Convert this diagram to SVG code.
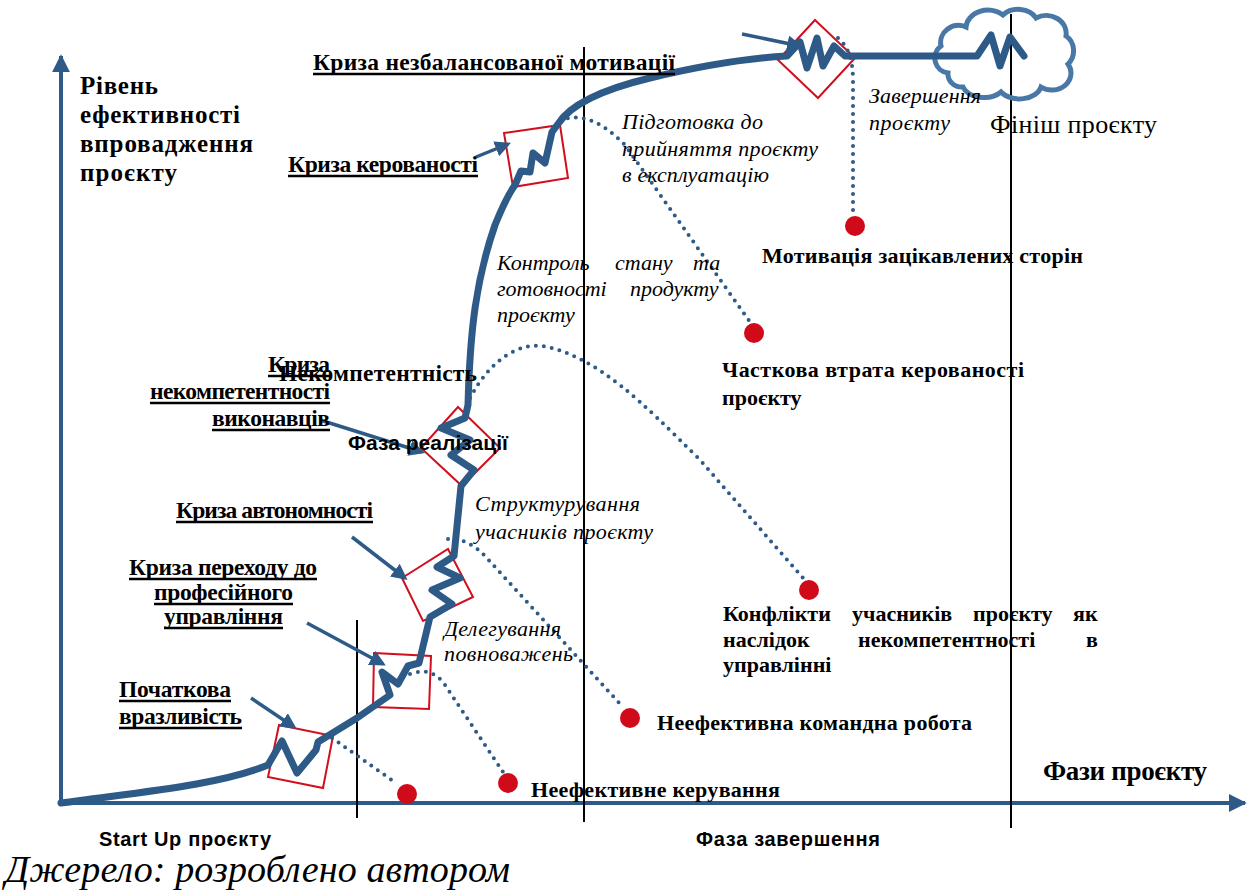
<svg xmlns="http://www.w3.org/2000/svg" width="1251" height="892" viewBox="0 0 1251 892">
<style>
.b{font-family:"Liberation Serif","Times New Roman",serif;font-weight:bold;font-size:23.5px;fill:#000}
.bs{font-family:"Liberation Serif","Times New Roman",serif;font-weight:bold;font-size:22px;fill:#000}
.i{font-family:"Liberation Serif","Times New Roman",serif;font-style:italic;font-size:22px;fill:#000}
.s{font-family:"Liberation Sans",Arial,sans-serif;font-weight:bold;font-size:20px;fill:#000}
.ul{stroke:#000;stroke-width:2.5}
.vl{stroke:#000;stroke-width:2;fill:none}
.box{fill:none;stroke:#D0101E;stroke-width:2}
.main{fill:none;stroke:#2E5A87;stroke-width:7;stroke-linejoin:round;stroke-linecap:round}
.arr{fill:none;stroke:#2E5A87;stroke-width:3.5}
.dot{fill:none;stroke:#2E5A87;stroke-width:4;stroke-dasharray:0 8;stroke-linecap:round}
.rd{fill:#D10A1A}
.ax{stroke:#2E5A87;stroke-width:4;fill:none}
</style>
<defs>
<marker id="ah" markerUnits="userSpaceOnUse" markerWidth="16" markerHeight="16" viewBox="0 0 10 10" refX="8" refY="5" orient="auto">
<path d="M0,0 L10,5 L0,10 z" fill="#2E5A87"/>
</marker>
<marker id="axh" markerUnits="userSpaceOnUse" markerWidth="18" markerHeight="18" viewBox="0 0 10 10" refX="9" refY="5" orient="auto">
<path d="M0,0 L10,5 L0,10 z" fill="#2E5A87"/>
</marker>
</defs>

<g id="axes">
<line class="ax" x1="61" y1="803" x2="61" y2="56" marker-end="url(#axh)"/>
<line class="ax" x1="59" y1="803" x2="1245" y2="803" marker-end="url(#axh)"/>
<line class="vl" x1="357" y1="620" x2="357" y2="818"/>
<line class="vl" x1="584" y1="47" x2="584" y2="822"/>
<line class="vl" x1="1011" y1="14" x2="1011" y2="828"/>
</g>

<g id="cloud">
<path d="M948,73 A15,15 0 0 1 941,46 A18,17 0 0 1 966,27 A22,18 0 0 1 1003,15 A20,16 0 0 1 1036,18 A20,18 0 0 1 1066,36 A15,17 0 0 1 1068,64 A19,17 0 0 1 1041,87 A22,15 0 0 1 1001,92 A22,15 0 0 1 963,87 A14,13 0 0 1 948,73 Z" fill="none" stroke="#4A78A6" stroke-width="5"/>
</g>

<g id="boxes">
<polygon class="box" points="279,725 333,736 323,788 268,777"/>
<polygon class="box" points="374,653 431,656 429,709 373,707"/>
<polygon class="box" points="402,578 448,549 473,597 423,621"/>
<polygon class="box" points="458,407 500,448 462,486 421,448"/>
<polygon class="box" points="504,133 560,125 568,178 513,187"/>
<polygon class="box" points="815,20 855,58 818,98 778,60"/>
</g>

<g id="connectors">
<path class="main" d="M61,803 C140,792 220,785 268,765 L282,741 L297,773 L316,750 L318,742 L357,718 L390,695 L382,672 L398,684 L408,666 L419,663 L430,617 L452,604 L432,590 L460,578 L437,567 L454,556 L461,486 L474,470 L451,455 L470,440 L441,428 L465,418 L468,405 C470,330 476,280 495,225 C505,200 510,192 515,185 L521,171 L530,172 L533,153 L545,163 L552,132 L558,124 C570,105 600,90 650,78 C700,66 750,58 787,56 L800,42 L807,68 L817,38 L823,66 L834,46 L845,56 L977,56 L991,35 L1000,66 L1010,37 L1024,56"/>
<path class="dot" d="M332,738 L396,783"/>
<path class="dot" d="M410,674 Q432,666 445,685 L503,772"/>
<path class="dot" d="M448,539 Q468,538 485,556 L622,706"/>
<path class="dot" d="M470,398 C490,360 520,340 548,347 C600,360 640,400 700,460 L803,578"/>
<path class="dot" d="M560,120 C585,112 605,125 625,145 L750,322"/>
<path class="dot" d="M838,38 Q853,50 853,80 L853,213"/>
<line class="arr" x1="742" y1="34" x2="800" y2="46" marker-end="url(#ah)"/>
<line class="arr" x1="476" y1="157" x2="508" y2="144" marker-end="url(#ah)"/>
<line class="arr" x1="320" y1="420" x2="422" y2="452" marker-end="url(#ah)"/>
<line class="arr" x1="352" y1="537" x2="405" y2="578" marker-end="url(#ah)"/>
<line class="arr" x1="307" y1="623" x2="383" y2="664" marker-end="url(#ah)"/>
<line class="arr" x1="251" y1="698" x2="294" y2="727" marker-end="url(#ah)"/>
</g>

<g id="points">
<circle class="rd" cx="407" cy="794" r="10"/>
<circle class="rd" cx="508" cy="783" r="10"/>
<circle class="rd" cx="630" cy="718" r="10"/>
<circle class="rd" cx="809" cy="590" r="10"/>
<circle class="rd" cx="754" cy="333" r="10"/>
<circle class="rd" cx="855" cy="226" r="10"/>
</g>

<g id="y-label">
<text class="b" style="font-size:25px" x="80" y="94" textLength="78">Рівень</text>
<text class="b" style="font-size:25px" x="80" y="123" textLength="160">ефективності</text>
<text class="b" style="font-size:25px" x="80" y="152" textLength="173">впровадження</text>
<text class="b" style="font-size:25px" x="80" y="181" textLength="97">проєкту</text>
</g>

<g id="crisis-motivation">
<text class="b" x="313" y="70" textLength="362">Криза незбалансованої мотивації</text>
<line class="ul" x1="313" y1="74" x2="675" y2="74"/>
</g>
<g id="crisis-control">
<text class="b" x="288" y="172" textLength="190">Криза керованості</text>
<line class="ul" x1="288" y1="176" x2="478" y2="176"/>
</g>
<g id="crisis-incompetence">
<text class="b" x="268" y="372" textLength="62">Криза</text>
<line class="ul" x1="268" y1="376" x2="330" y2="376"/>
<text class="b" x="150" y="399" textLength="180">некомпетентності</text>
<line class="ul" x1="150" y1="403" x2="330" y2="403"/>
<text class="b" x="212" y="426" textLength="118">виконавців</text>
<line class="ul" x1="212" y1="430" x2="330" y2="430"/>
</g>
<g id="incompetence">
<text class="b" x="279" y="381" textLength="198">Некомпетентність</text>
</g>
<g id="phase-realization">
<text class="s" style="font-size:21px" x="348" y="450" textLength="160">Фаза реалізації</text>
</g>
<g id="crisis-autonomy">
<text class="b" x="176" y="518" textLength="197">Криза автономності</text>
<line class="ul" x1="176" y1="522" x2="373" y2="522"/>
</g>
<g id="crisis-transition">
<text class="b" x="129" y="575" textLength="188">Криза переходу до</text>
<line class="ul" x1="129" y1="579" x2="317" y2="579"/>
<text class="b" x="154" y="600" textLength="139">професійного</text>
<line class="ul" x1="154" y1="604" x2="293" y2="604"/>
<text class="b" x="164" y="624" textLength="119">управління</text>
<line class="ul" x1="164" y1="628" x2="283" y2="628"/>
</g>
<g id="crisis-initial">
<text class="b" x="119" y="697" textLength="112">Початкова</text>
<line class="ul" x1="119" y1="701" x2="231" y2="701"/>
<text class="b" x="119" y="724" textLength="123">вразливість</text>
<line class="ul" x1="119" y1="728" x2="242" y2="728"/>
</g>

<g id="stage-labels">
<text class="i" x="622" y="129" textLength="141">Підготовка до</text>
<text class="i" x="622" y="156" textLength="196">прийняття проєкту</text>
<text class="i" x="622" y="182" textLength="147">в експлуатацію</text>
<text class="i" x="869" y="103" textLength="112">Завершення</text>
<text class="i" x="869" y="130" textLength="81">проєкту</text>
<text class="i" y="270"><tspan x="497">Контроль</tspan><tspan x="615">стану</tspan><tspan x="693">та</tspan></text>
<text class="i" y="296"><tspan x="497">готовності</tspan><tspan x="630">продукту</tspan></text>
<text class="i" x="497" y="322">проєкту</text>
<text class="i" x="475" y="511" textLength="165">Структурування</text>
<text class="i" x="475" y="539" textLength="178">учасників проєкту</text>
<text class="i" x="444" y="636" textLength="117">Делегування</text>
<text class="i" x="444" y="661" textLength="129">повноважень</text>
</g>

<g id="finish">
<text x="990" y="133" font-family="Liberation Serif, Times New Roman, serif" font-size="26" textLength="167">Фініш проєкту</text>
</g>

<g id="outcomes">
<text class="bs" x="762" y="263" textLength="321">Мотивація зацікавлених сторін</text>
<text class="bs" x="722" y="377" textLength="302">Часткова втрата керованості</text>
<text class="bs" x="722" y="405">проєкту</text>
<text class="bs" y="621"><tspan x="723">Конфлікти</tspan><tspan x="852">учасників</tspan><tspan x="973">проєкту</tspan><tspan x="1073">як</tspan></text>
<text class="bs" y="647"><tspan x="723">наслідок</tspan><tspan x="858">некомпетентності</tspan><tspan x="1086">в</tspan></text>
<text class="bs" x="723" y="672">управлінні</text>
<text class="bs" x="657" y="730" textLength="315">Неефективна командна робота</text>
<text class="bs" x="531" y="797" textLength="249">Неефективне керування</text>
</g>

<g id="x-labels">
<text class="b" style="font-size:27px" x="1043" y="780" textLength="164">Фази проєкту</text>
<text class="s" x="99" y="846" textLength="172">Start Up проєкту</text>
<text class="s" x="696" y="846" textLength="184">Фаза завершення</text>
<text x="5" y="882" font-family="Liberation Serif, Times New Roman, serif" font-style="italic" font-size="38" textLength="505">Джерело: розроблено автором</text>
</g>
</svg>
